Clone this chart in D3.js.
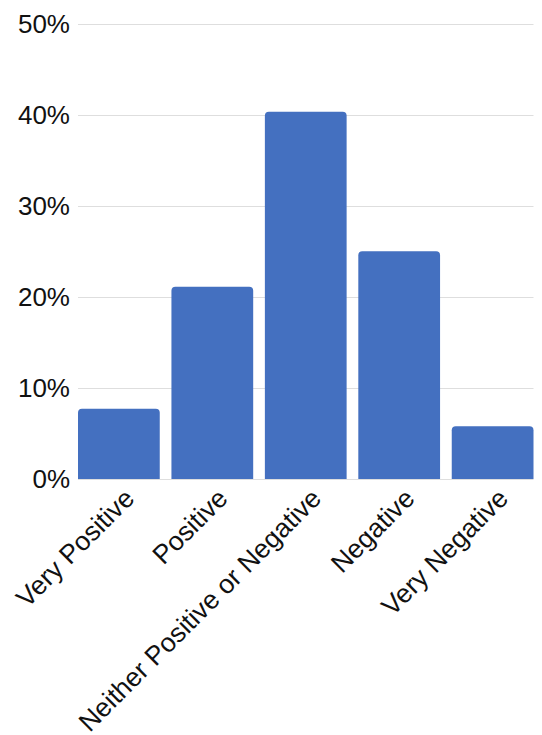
<!DOCTYPE html>
<html>
<head>
<meta charset="utf-8">
<script src="https://cdn.jsdelivr.net/npm/d3@7"></script>
<style>
  html, body { margin: 0; padding: 0; background: #fff; }
  svg { display: block; font-family: "Liberation Sans", Arial, sans-serif; }
</style>
</head>
<body>
<svg id="chart" width="542" height="735"></svg>
<script>
// Survey response shares by sentiment category
const categories = ["Very Positive", "Positive", "Neither Positive or Negative", "Negative", "Very Negative"];
const shares = [0.077, 0.211, 0.403, 0.250, 0.058];
const yTicks = [0, 0.1, 0.2, 0.3, 0.4, 0.5];

(function () {
  const svg = d3.select("#chart");
  const plotLeft = 78, plotRight = 533.5, plotTop = 23.5, plotBottom = 479;

  const x = d3.scaleBand()
    .domain(categories)
    .range([plotLeft, plotRight])
    .paddingInner(0.125)
    .paddingOuter(0);

  const y = d3.scaleLinear()
    .domain([0, 0.5])
    .range([plotBottom, plotTop]);

  // horizontal gridlines
  svg.append("g")
    .selectAll("line")
    .data(yTicks)
    .join("line")
    .attr("x1", plotLeft)
    .attr("x2", plotRight)
    .attr("y1", d => Math.round(y(d)) + 0.5)
    .attr("y2", d => Math.round(y(d)) + 0.5)
    .attr("stroke", "#dedede")
    .attr("stroke-width", 1);

  // y tick labels
  svg.append("g")
    .selectAll("text")
    .data(yTicks)
    .join("text")
    .attr("x", 70)
    .attr("y", d => y(d))
    .attr("dy", "0.35em")
    .attr("text-anchor", "end")
    .attr("font-size", 26)
    .attr("fill", "#111")
    .text(d3.format(".0%"));

  // bars with rounded top corners
  const r = 4;
  function barPath(d, i) {
    const x0 = x(categories[i]);
    const w = x.bandwidth();
    const y0 = y(d);
    const y1 = y(0);
    return `M${x0},${y1}V${y0 + r}Q${x0},${y0} ${x0 + r},${y0}H${x0 + w - r}Q${x0 + w},${y0} ${x0 + w},${y0 + r}V${y1}Z`;
  }
  svg.append("g")
    .selectAll("path")
    .data(shares)
    .join("path")
    .attr("d", barPath)
    .attr("fill", "#4470c0");

  // rotated category labels
  svg.append("g")
    .selectAll("text")
    .data(categories)
    .join("text")
    .attr("transform", d => `translate(${x(d) + x.bandwidth() / 2 + 17},${plotBottom + 21}) rotate(-45)`)
    .attr("text-anchor", "end")
    .attr("font-size", 26.6)
    .attr("fill", "#111")
    .text(d => d);
})();
</script>
</body>
</html>
